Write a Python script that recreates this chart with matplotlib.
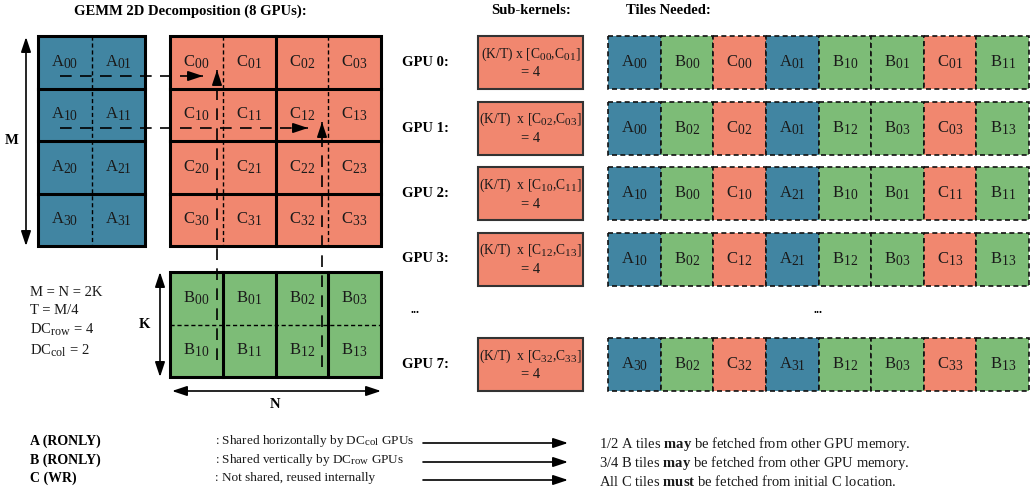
import matplotlib
matplotlib.use('Agg')
import matplotlib.pyplot as plt
from matplotlib.patches import Rectangle
try:
    import matplotlib._mathtext as _mt
    _mt.SHRINK_FACTOR = 0.82
except Exception:
    pass

plt.rcParams['font.family'] = ['Liberation Serif', 'DejaVu Serif']
plt.rcParams['mathtext.fontset'] = 'custom'
plt.rcParams['mathtext.rm'] = 'Liberation Serif'
plt.rcParams['mathtext.it'] = 'Liberation Serif:italic'
plt.rcParams['mathtext.bf'] = 'Liberation Serif:bold'

# ---------------- data ----------------
A_tiles = [["A00", "A01"], ["A10", "A11"], ["A20", "A21"], ["A30", "A31"]]
C_tiles = [["C00", "C01", "C02", "C03"], ["C10", "C11", "C12", "C13"],
           ["C20", "C21", "C22", "C23"], ["C30", "C31", "C32", "C33"]]
B_tiles = [["B00", "B01", "B02", "B03"], ["B10", "B11", "B12", "B13"]]
params = ["M = N = 2K", "T = M/4", "DC$_{\\mathrm{row}}$ = 4", "DC$_{\\mathrm{col}}$ = 2"]
gpu_names = ["GPU 0:", "GPU 1:", "GPU 2:", "GPU 3:", "GPU 7:"]
subkernel_pairs = [("00", "01"), ("02", "03"), ("10", "11"), ("12", "13"), ("32", "33")]
subkernel_count = 4
tiles_needed = [
    ["A00", "B00", "C00", "A01", "B10", "B01", "C01", "B11"],
    ["A00", "B02", "C02", "A01", "B12", "B03", "C03", "B13"],
    ["A10", "B00", "C10", "A21", "B10", "B01", "C11", "B11"],
    ["A10", "B02", "C12", "A21", "B12", "B03", "C13", "B13"],
    ["A30", "B02", "C32", "A31", "B12", "B03", "C33", "B13"],
]
legend_names = ["A (RONLY)", "B (RONLY)", "C (WR)"]
legend_desc = [": Shared horizontally by DC$_{\\mathrm{col}}$ GPUs",
               ": Shared vertically by DC$_{\\mathrm{row}}$ GPUs",
               ": Not shared, reused internally"]
legend_result = ["1/2 A tiles $\\mathbf{may}$ be fetched from other GPU memory.",
                 "3/4 B tiles $\\mathbf{may}$ be fetched from other GPU memory.",
                 "All C tiles $\\mathbf{must}$ be fetched from initial C location."]

COL = {'A': '#4185a2', 'B': '#7dbc77', 'C': '#f1876f'}
TXT = '#1a1a1a'


def lab(s):
    return f"{s[0]}$_{{{s[1:]}}}$"


fig = plt.figure(figsize=(10.33, 4.96), dpi=100)
ax = fig.add_axes([0, 0, 1, 1])
ax.set_xlim(0, 1033)
ax.set_ylim(496, 0)
ax.axis('off')

THICK = 2.2
THIN = 1.0
DASH = (0, (3, 2))


def grid(x0, y0, cw, ch, labels, color, thick_v, thick_h, dash_v, dash_h):
    nr, nc = len(labels), len(labels[0])
    ax.add_patch(Rectangle((x0, y0), cw * nc, ch * nr, facecolor=color, edgecolor='none'))
    for r in range(nr):
        for c in range(nc):
            ax.text(x0 + (c + 0.5) * cw, y0 + (r + 0.5) * ch, lab(labels[r][c]),
                    ha='center', va='center', fontsize=12, color=TXT)
    for c in dash_v:
        ax.plot([x0 + c * cw] * 2, [y0, y0 + nr * ch], color='k', lw=THIN, ls=DASH)
    for r in dash_h:
        ax.plot([x0, x0 + nc * cw], [y0 + r * ch] * 2, color='k', lw=THIN, ls=DASH)
    for c in thick_v:
        ax.plot([x0 + c * cw] * 2, [y0, y0 + nr * ch], color='k', lw=THICK)
    for r in thick_h:
        ax.plot([x0, x0 + nc * cw], [y0 + r * ch] * 2, color='k', lw=THICK)
    ax.add_patch(Rectangle((x0, y0), cw * nc, ch * nr, facecolor='none',
                           edgecolor='k', lw=THICK))


# titles
ax.text(190, 11, "GEMM 2D Decomposition (8 GPUs):", ha='center', va='center',
        fontsize=10.5, fontweight='bold')
ax.text(531, 11, "Sub-kernels:", ha='center', va='center', fontsize=10.5, fontweight='bold')
ax.text(668, 11, "Tiles Needed:", ha='center', va='center', fontsize=10.5, fontweight='bold')

# A grid
grid(38, 36, 53.5, 52.5, A_tiles, COL['A'], [], [1, 2, 3], [1], [])
# C grid
grid(170, 36, 52.75, 52.5, C_tiles, COL['C'], [2], [1, 2, 3], [1, 3], [])
# B grid
grid(170, 272, 52.75, 52.5, B_tiles, COL['B'], [1, 2, 3], [], [], [1])


def dbl_arrow(p0, p1):
    ax.annotate('', xy=p1, xytext=p0,
                arrowprops=dict(arrowstyle='<|-|>,head_length=0.9,head_width=0.3',
                                color='k', lw=1.2, shrinkA=0, shrinkB=0))


dbl_arrow((26, 37), (26, 246))
ax.text(12, 141, "M", ha='center', va='center', fontsize=10.5, fontweight='bold')
dbl_arrow((160, 272), (160, 377))
ax.text(144, 325, "K", ha='center', va='center', fontsize=10.5, fontweight='bold')
dbl_arrow((172, 391), (381, 391))
ax.text(275, 404, "N", ha='center', va='center', fontsize=10.5, fontweight='bold')


def dashed_arrow(p0, p1):
    ax.plot([p0[0], p1[0]], [p0[1], p1[1]], color='k', lw=1.2, ls=(0, (7, 5)))
    dx, dy = p1[0] - p0[0], p1[1] - p0[1]
    L = (dx ** 2 + dy ** 2) ** 0.5
    q = (p1[0] - dx / L * 12, p1[1] - dy / L * 12)
    ax.annotate('', xy=p1, xytext=q,
                arrowprops=dict(arrowstyle='-|>,head_length=0.9,head_width=0.3',
                                color='k', lw=1.2, shrinkA=0, shrinkB=0))


dashed_arrow((60, 76), (203, 76))
dashed_arrow((60, 128), (308, 128))
dashed_arrow((217, 360), (217, 70))
dashed_arrow((322, 367), (322, 122))

# parameters
for p, yy in zip(params, [293, 311, 330, 351]):
    ax.text(30, yy, p, ha='left', va='center', fontsize=10.5, color=TXT)

# GPU rows
row_tops = [36, 101.5, 167, 232.5, 338]
RH = 53
tw = (1029 - 608) / 8
for i, top in enumerate(row_tops):
    ax.text(402, top + RH / 2, gpu_names[i], ha='left', va='center',
            fontsize=10.5, fontweight='bold')
    ax.add_patch(Rectangle((478, top), 105, RH, facecolor=COL['C'],
                           edgecolor='#333333', lw=1.5))
    a, b = subkernel_pairs[i]
    sp = " " if i == 0 else "  "
    ax.text(530.5, top + 18, f"(K/T){sp}x [C$_{{{a}}}$,C$_{{{b}}}$]", ha='center',
            va='center', fontsize=9.8, color=TXT)
    ax.text(530.5, top + 37, f"= {subkernel_count}", ha='center', va='center',
            fontsize=10.5, color=TXT)
    for j, t in enumerate(tiles_needed[i]):
        ax.add_patch(Rectangle((608 + j * tw, top), tw, RH, facecolor=COL[t[0]],
                               edgecolor='#111111', lw=1.2, ls=DASH))
        ax.text(608 + (j + 0.5) * tw, top + RH / 2, lab(t), ha='center', va='center',
                fontsize=12, color=TXT)

ax.text(415, 310, "...", ha='center', va='center', fontsize=9, fontweight='bold')
ax.text(818, 310, "...", ha='center', va='center', fontsize=9, fontweight='bold')

# legend
for i, yy in enumerate([441, 460, 478]):
    ax.text(30, yy, legend_names[i], ha='left', va='center', fontsize=10,
            fontweight='bold')
    ax.text(215, yy, legend_desc[i], ha='left', va='center', fontsize=9.5, color=TXT)
    ax.annotate('', xy=(568, yy + 2), xytext=(423, yy + 2),
                arrowprops=dict(arrowstyle='-|>,head_length=0.9,head_width=0.3',
                                color='k', lw=1.2, shrinkA=0, shrinkB=0))
    ax.text(599, yy + 3, legend_result[i], ha='left', va='center', fontsize=10.5,
            color=TXT)

fig.savefig('out.png', dpi=100)
